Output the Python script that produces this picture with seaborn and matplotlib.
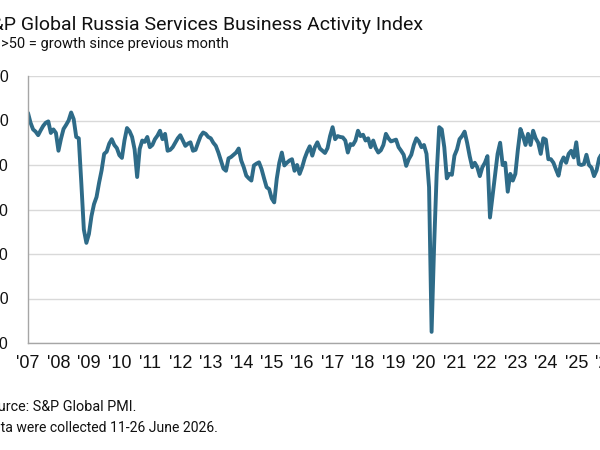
import numpy as np
import pandas as pd
import matplotlib
matplotlib.use("Agg")
import matplotlib.pyplot as plt
import seaborn as sns

# ---- data: monthly index values, Jan 2007 onwards ----
pmi_2007 = [61.7, 59.5, 58.0, 57.5, 56.7, 57.8, 58.8, 59.5, 59.8, 57.2, 58.0, 57.2]
pmi_2008 = [53.2, 55.9, 58.1, 59.0, 60.0, 61.8, 60.3, 56.3, 56.0, 46.0, 35.5, 32.5]
pmi_2009 = [34.5, 38.5, 41.2, 42.8, 46.0, 48.8, 52.5, 53.0, 54.8, 55.8, 54.5, 53.8]
pmi_2010 = [52.2, 51.6, 55.5, 58.3, 57.6, 56.3, 53.5, 47.3, 53.6, 55.5, 55.2, 56.3]
pmi_2011 = [54.0, 54.5, 55.8, 56.6, 57.7, 55.8, 57.0, 53.2, 53.4, 54.0, 55.0, 56.0]
pmi_2012 = [56.7, 55.5, 54.3, 54.8, 55.1, 53.2, 53.4, 55.0, 56.5, 57.3, 57.0, 56.3]
pmi_2013 = [56.0, 55.0, 54.3, 52.8, 51.0, 49.2, 48.7, 51.5, 51.8, 52.3, 52.8, 53.7]
pmi_2014 = [51.0, 49.5, 47.6, 47.0, 46.5, 49.9, 50.3, 50.6, 49.1, 47.0, 45.0, 44.6]
pmi_2015 = [42.5, 41.6, 46.9, 50.5, 52.8, 49.9, 50.5, 51.0, 51.3, 48.7, 50.0, 48.0]
pmi_2016 = [49.5, 51.5, 53.0, 54.2, 52.1, 54.0, 55.1, 53.7, 53.2, 52.7, 53.8, 56.5]
pmi_2017 = [58.5, 55.8, 56.5, 56.3, 56.2, 55.5, 52.8, 54.7, 54.5, 55.5, 57.7, 56.5]
pmi_2018 = [56.8, 55.5, 56.0, 54.0, 55.5, 53.8, 52.8, 53.3, 54.5, 57.0, 56.0, 55.3]
pmi_2019 = [55.5, 55.7, 54.0, 53.2, 52.3, 49.8, 51.3, 52.3, 54.5, 56.0, 55.3, 54.0]
pmi_2020 = [54.5, 52.5, 45.0, 12.5, 32.0, 48.0, 58.5, 58.0, 54.0, 47.0, 48.0, 47.8]
pmi_2021 = [52.1, 53.5, 55.8, 56.5, 57.5, 55.0, 52.0, 49.5, 50.5, 49.5, 47.5, 49.5]
pmi_2022 = [50.5, 52.0, 38.2, 43.0, 47.6, 52.5, 55.0, 50.0, 50.5, 44.0, 48.0, 46.5]
pmi_2023 = [48.0, 53.5, 58.1, 56.5, 54.5, 57.0, 54.5, 57.7, 56.0, 55.0, 52.5, 56.0]
pmi_2024 = [55.7, 51.3, 51.3, 50.5, 49.0, 47.6, 50.5, 51.7, 50.5, 52.5, 53.2, 51.7]
pmi_2025 = [55.1, 50.2, 50.0, 50.2, 52.3, 50.0, 49.4, 47.5, 48.8, 51.5, 52.5]

years = list(range(2007, 2026))
yearly = [pmi_2007, pmi_2008, pmi_2009, pmi_2010, pmi_2011, pmi_2012, pmi_2013,
          pmi_2014, pmi_2015, pmi_2016, pmi_2017, pmi_2018, pmi_2019, pmi_2020,
          pmi_2021, pmi_2022, pmi_2023, pmi_2024, pmi_2025]

x_tick_years = list(range(2007, 2027))
x_tick_labels = ["'" + str(y)[2:] for y in x_tick_years]
y_ticks = [10, 20, 30, 40, 50, 60, 70]

title = "S&P Global Russia Services Business Activity Index"
subtitle = "sa, >50 = growth since previous month"
source = "Source: S&P Global PMI."
note = "Data were collected 11-26 June 2026."

rows = []
for yr, vals in zip(years, yearly):
    for i, v in enumerate(vals):
        rows.append({"t": yr + i / 12.0, "pmi": v})
df = pd.DataFrame(rows)

# ---- style ----
sns.set_theme(style="white")
plt.rcParams["font.family"] = ["Roboto", "DejaVu Sans"]

W, H = 600, 450
fig = plt.figure(figsize=(6, 4.5), dpi=100)
px_per_year = 30.46
ax_left, ax_right = 28, 625
ax_top, ax_bottom = 76, 343
ax = fig.add_axes([ax_left / W, (H - ax_bottom) / H,
                   (ax_right - ax_left) / W, (ax_bottom - ax_top) / H])

sns.lineplot(data=df, x="t", y="pmi", ax=ax, color="#2e6b88", linewidth=2.8)

ax.set_xlim(2007, 2007 + (ax_right - ax_left) / px_per_year)
ax.set_ylim(10, 70)
ax.set_xticks(x_tick_years)
ax.set_xticklabels(x_tick_labels, fontfamily=["Liberation Sans", "DejaVu Sans"])
ax.set_yticks(y_ticks)
ax.set_yticklabels([str(v) for v in y_ticks], fontfamily=["Liberation Sans", "DejaVu Sans"])
ax.set_xlabel("")
ax.set_ylabel("")

ax.yaxis.grid(True, color="#d9d9d9", linewidth=1.0)
ax.xaxis.grid(False)
ax.set_axisbelow(True)
for s in ["top", "right"]:
    ax.spines[s].set_visible(False)
for s in ["left", "bottom"]:
    ax.spines[s].set_color("#a6a6a6")
    ax.spines[s].set_linewidth(1.0)

ax.tick_params(axis="x", direction="out", length=4, width=1, color="#a6a6a6",
               labelsize=13, pad=5, labelcolor="#111111")
ax.tick_params(axis="y", direction="out", length=4, width=1, color="#a6a6a6",
               labelsize=11.5, pad=10, labelcolor="#111111")

def ftext(x, y, s, **kw):
    fig.text(x / W, 1 - y / H, s, ha="right", va="baseline", color="#111111", **kw)

ftext(423, 30, title, fontsize=14)
ftext(229, 48, subtitle, fontsize=10.5)
ftext(136, 411, source, fontsize=10.4)
ftext(218, 432, note, fontsize=10.1)

fig.savefig("out.png", dpi=100)
